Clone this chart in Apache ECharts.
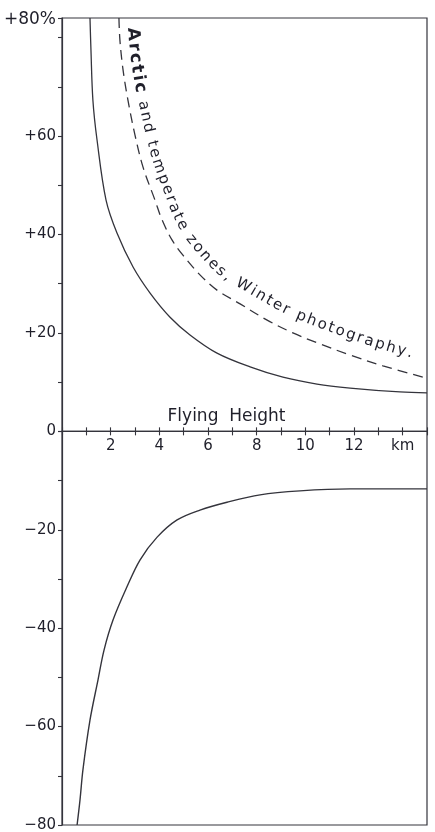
<!DOCTYPE html>
<html><head><meta charset="utf-8">
<script src="https://cdn.jsdelivr.net/npm/echarts@6/dist/echarts.min.js"></script>
<style>html,body{margin:0;padding:0;background:#fff}#c{width:435px;height:832px}</style>
</head><body><div id="c"></div>
<script>
// ---- data ----
const upperSolidX = [1.15, 1.19, 1.27, 1.44, 1.81, 2.26, 2.92, 3.62, 4.44, 5.26, 6.37, 7.73, 9.08, 10.48, 11.84, 13.89, 15.0];
const upperSolidY = [84.0, 77.5, 67.3, 59.2, 47.0, 40.3, 33.4, 28.1, 23.2, 19.6, 15.9, 13.1, 11.0, 9.6, 8.8, 8.0, 7.8];

const dashedX = [2.34, 2.38, 2.51, 2.71, 3.00, 3.33, 3.82, 4.11, 4.52, 4.97, 5.67, 6.37, 7.32, 8.43, 9.49, 10.48, 11.84, 13.19, 15.0];
const dashedY = [84.0, 79.5, 73.4, 67.3, 60.2, 53.7, 47.0, 43.0, 38.9, 35.8, 31.8, 28.7, 25.9, 22.6, 20.0, 18.0, 15.5, 13.3, 10.8];

const lowerX = [0.62, 0.74, 0.86, 1.15, 1.48, 1.73, 2.10, 2.67, 3.21, 3.91, 4.73, 5.67, 6.78, 8.14, 9.78, 11.84, 15.0];
const lowerY = [-80.0, -74.9, -68.8, -58.7, -50.5, -44.4, -38.3, -31.6, -26.1, -21.5, -18.0, -16.0, -14.4, -12.9, -12.1, -11.7, -11.7];

const xLabelValues = [2, 4, 6, 8, 10, 12, 14];
const xLabelTexts = ['2', '4', '6', '8', '10', '12', 'km'];
const yLabelValues = [80, 60, 40, 20, 0, -20, -40, -60, -80];
const yLabelTexts = ['+80%', '+60', '+40', '+20', '0', '\u221220', '\u221240', '\u221260', '\u221280'];
const xAxisName = 'Flying  Height';
const curveText = 'Arctic and temperate zones, Winter photography.';
const curveTextBoldChars = 6;

// ---- chart ----
const FONT = 'DejaVu Sans';
const INK = '#1f1f2a';
const LINE = '#34343c';
const zip = (xs, ys) => xs.map((x, i) => [x, ys[i]]);

// one scale for both halves: 84 units above zero, 80 below
const TOP = 18, BOTTOM_PX = 825, Y_MAX = 84, Y_MIN = -80;
const pxPerUnit = (BOTTOM_PX - TOP) / (Y_MAX - Y_MIN);
const zeroPx = TOP + Y_MAX * pxPerUnit;
const H = 832;

const yFormatter = (skipZero) => v => {
  const i = yLabelValues.indexOf(v);
  if (i < 0 || (skipZero && v === 0)) return '';
  return v === 80 ? '{top|' + yLabelTexts[i] + '}' : yLabelTexts[i];
};
const tickStyle = {color: LINE, width: 1.1};
const lineStyleAxis = {color: LINE, width: 1.2};

const chart = echarts.init(document.getElementById('c'), null, {renderer: 'canvas'});
const option = {
  backgroundColor: '#ffffff',
  animation: false,
  grid: [
    {left: 62, right: 8, top: TOP, bottom: H - zeroPx, show: true, borderColor: LINE, borderWidth: 1.2,
     containLabel: false, outerBoundsMode: 'none'},
    {left: 62, right: 8, top: zeroPx, bottom: H - BOTTOM_PX, show: true, borderColor: LINE, borderWidth: 1.2,
     containLabel: false, outerBoundsMode: 'none'}
  ],
  xAxis: [{
    gridIndex: 0, type: 'value', min: 0, max: 15, interval: 1, position: 'bottom',
    axisLine: {onZero: false, lineStyle: lineStyleAxis},
    axisTick: {show: true, length: 4, lineStyle: tickStyle},
    splitLine: {show: false},
    axisLabel: {
      margin: 7, color: INK, fontFamily: FONT, fontSize: 15,
      formatter: v => { const i = xLabelValues.indexOf(v); return i >= 0 ? xLabelTexts[i] : ''; }
    },
    name: xAxisName, nameLocation: 'middle', nameGap: -23,
    nameTextStyle: {color: INK, fontFamily: FONT, fontSize: 17, padding: [0, 36, 0, 0]}
  }, {
    gridIndex: 1, type: 'value', min: 0, max: 15, interval: 1, position: 'top',
    axisLine: {onZero: false, lineStyle: lineStyleAxis},
    axisTick: {show: true, length: 4, lineStyle: tickStyle},
    axisLabel: {show: false}, splitLine: {show: false}
  }],
  yAxis: [{
    gridIndex: 0, type: 'value', min: 0, max: Y_MAX, interval: 10,
    axisLine: {show: true, onZero: false, lineStyle: lineStyleAxis},
    axisTick: {show: true, length: 4, lineStyle: tickStyle},
    splitLine: {show: false},
    axisLabel: {
      margin: 6, color: INK, fontFamily: FONT, fontSize: 15, formatter: yFormatter(false),
      rich: {top: {fontFamily: FONT, fontSize: 17, color: INK, padding: [0, 0, 36, 0]}}
    }
  }, {
    gridIndex: 1, type: 'value', min: Y_MIN, max: 0, interval: 10,
    axisLine: {show: true, onZero: false, lineStyle: lineStyleAxis},
    axisTick: {show: true, length: 4, lineStyle: tickStyle},
    splitLine: {show: false},
    axisLabel: {margin: 6, color: INK, fontFamily: FONT, fontSize: 15, formatter: yFormatter(true)}
  }],
  series: [
    {type: 'line', xAxisIndex: 0, yAxisIndex: 0, data: zip(upperSolidX, upperSolidY), smooth: 0.35, symbol: 'none', clip: true,
     lineStyle: {color: LINE, width: 1.3}},
    {type: 'line', xAxisIndex: 0, yAxisIndex: 0, data: zip(dashedX, dashedY), smooth: 0.35, symbol: 'none', clip: true,
     lineStyle: {color: LINE, width: 1.3, type: [10, 6]}},
    {type: 'line', xAxisIndex: 1, yAxisIndex: 1, data: zip(lowerX, lowerY), smooth: 0.35, symbol: 'none', clip: true,
     lineStyle: {color: LINE, width: 1.4}}
  ]
};
chart.setOption(option);

// ---- annotation text set along the dashed curve ----
(function placeCurveText() {
  const px = dashedX.map((x, i) => chart.convertToPixel({xAxisIndex: 0, yAxisIndex: 0}, [x, dashedY[i]]));
  const dense = [];
  for (let i = 0; i < px.length - 1; i++) {
    const p0 = px[Math.max(i - 1, 0)], p1 = px[i], p2 = px[i + 1], p3 = px[Math.min(i + 2, px.length - 1)];
    for (let k = 0; k < 24; k++) {
      const t = k / 24, t2 = t * t, t3 = t2 * t;
      const f = (a, b, c, d) => 0.5 * ((2 * b) + (-a + c) * t + (2 * a - 5 * b + 4 * c - d) * t2 + (-a + 3 * b - 3 * c + d) * t3);
      dense.push([f(p0[0], p1[0], p2[0], p3[0]), f(p0[1], p1[1], p2[1], p3[1])]);
    }
  }
  dense.push(px[px.length - 1]);
  const n = dense.length;
  const off = [];
  for (let i = 0; i < n; i++) {
    const a = dense[Math.max(i - 3, 0)], b = dense[Math.min(i + 3, n - 1)];
    let dx = b[0] - a[0], dy = b[1] - a[1];
    const L = Math.hypot(dx, dy) || 1; dx /= L; dy /= L;
    const o = 13 + 7 * (i / (n - 1));
    off.push([dense[i][0] + dy * o, dense[i][1] - dx * o]);
  }
  const cum = [0];
  for (let i = 1; i < n; i++) cum.push(cum[i - 1] + Math.hypot(off[i][0] - off[i - 1][0], off[i][1] - off[i - 1][1]));
  let i0 = off.findIndex(p => p[1] >= 27); if (i0 < 0) i0 = 0;
  let i1 = off.findIndex(p => p[0] >= 411); if (i1 < 0) i1 = n - 1;
  const s0 = cum[i0], s1 = cum[i1];

  const ctx = document.createElement('canvas').getContext('2d');
  const chars = curveText.split('');
  const fonts = chars.map((c, i) => i < curveTextBoldChars ? 'bold 17px "' + FONT + '"' : '15px "' + FONT + '"');
  const widths = chars.map((c, i) => { ctx.font = fonts[i]; return ctx.measureText(c).width; });
  const total = widths.reduce((a, b) => a + b, 0);
  const extra = (s1 - s0 - total) / (chars.length - 1);

  function at(s) {
    let j = 1;
    while (j < n - 1 && cum[j] < s) j++;
    const a = off[j - 1], b = off[j];
    const seg = cum[j] - cum[j - 1] || 1;
    const t = Math.min(Math.max((s - cum[j - 1]) / seg, 0), 1);
    const a2 = off[Math.max(j - 4, 0)], b2 = off[Math.min(j + 3, n - 1)];
    return [a[0] + (b[0] - a[0]) * t, a[1] + (b[1] - a[1]) * t, Math.atan2(b2[1] - a2[1], b2[0] - a2[0])];
  }
  const els = [];
  let s = s0;
  chars.forEach((c, i) => {
    const mid = s + widths[i] / 2;
    const p = at(mid);
    if (c !== ' ') {
      els.push({type: 'text', x: p[0], y: p[1], rotation: -p[2], silent: true, z: 10,
        style: {text: c, font: fonts[i], fill: INK, align: 'center', verticalAlign: 'middle'}});
    }
    s += widths[i] + extra;
  });
  chart.setOption({graphic: els});
})();
</script>
</body></html>
